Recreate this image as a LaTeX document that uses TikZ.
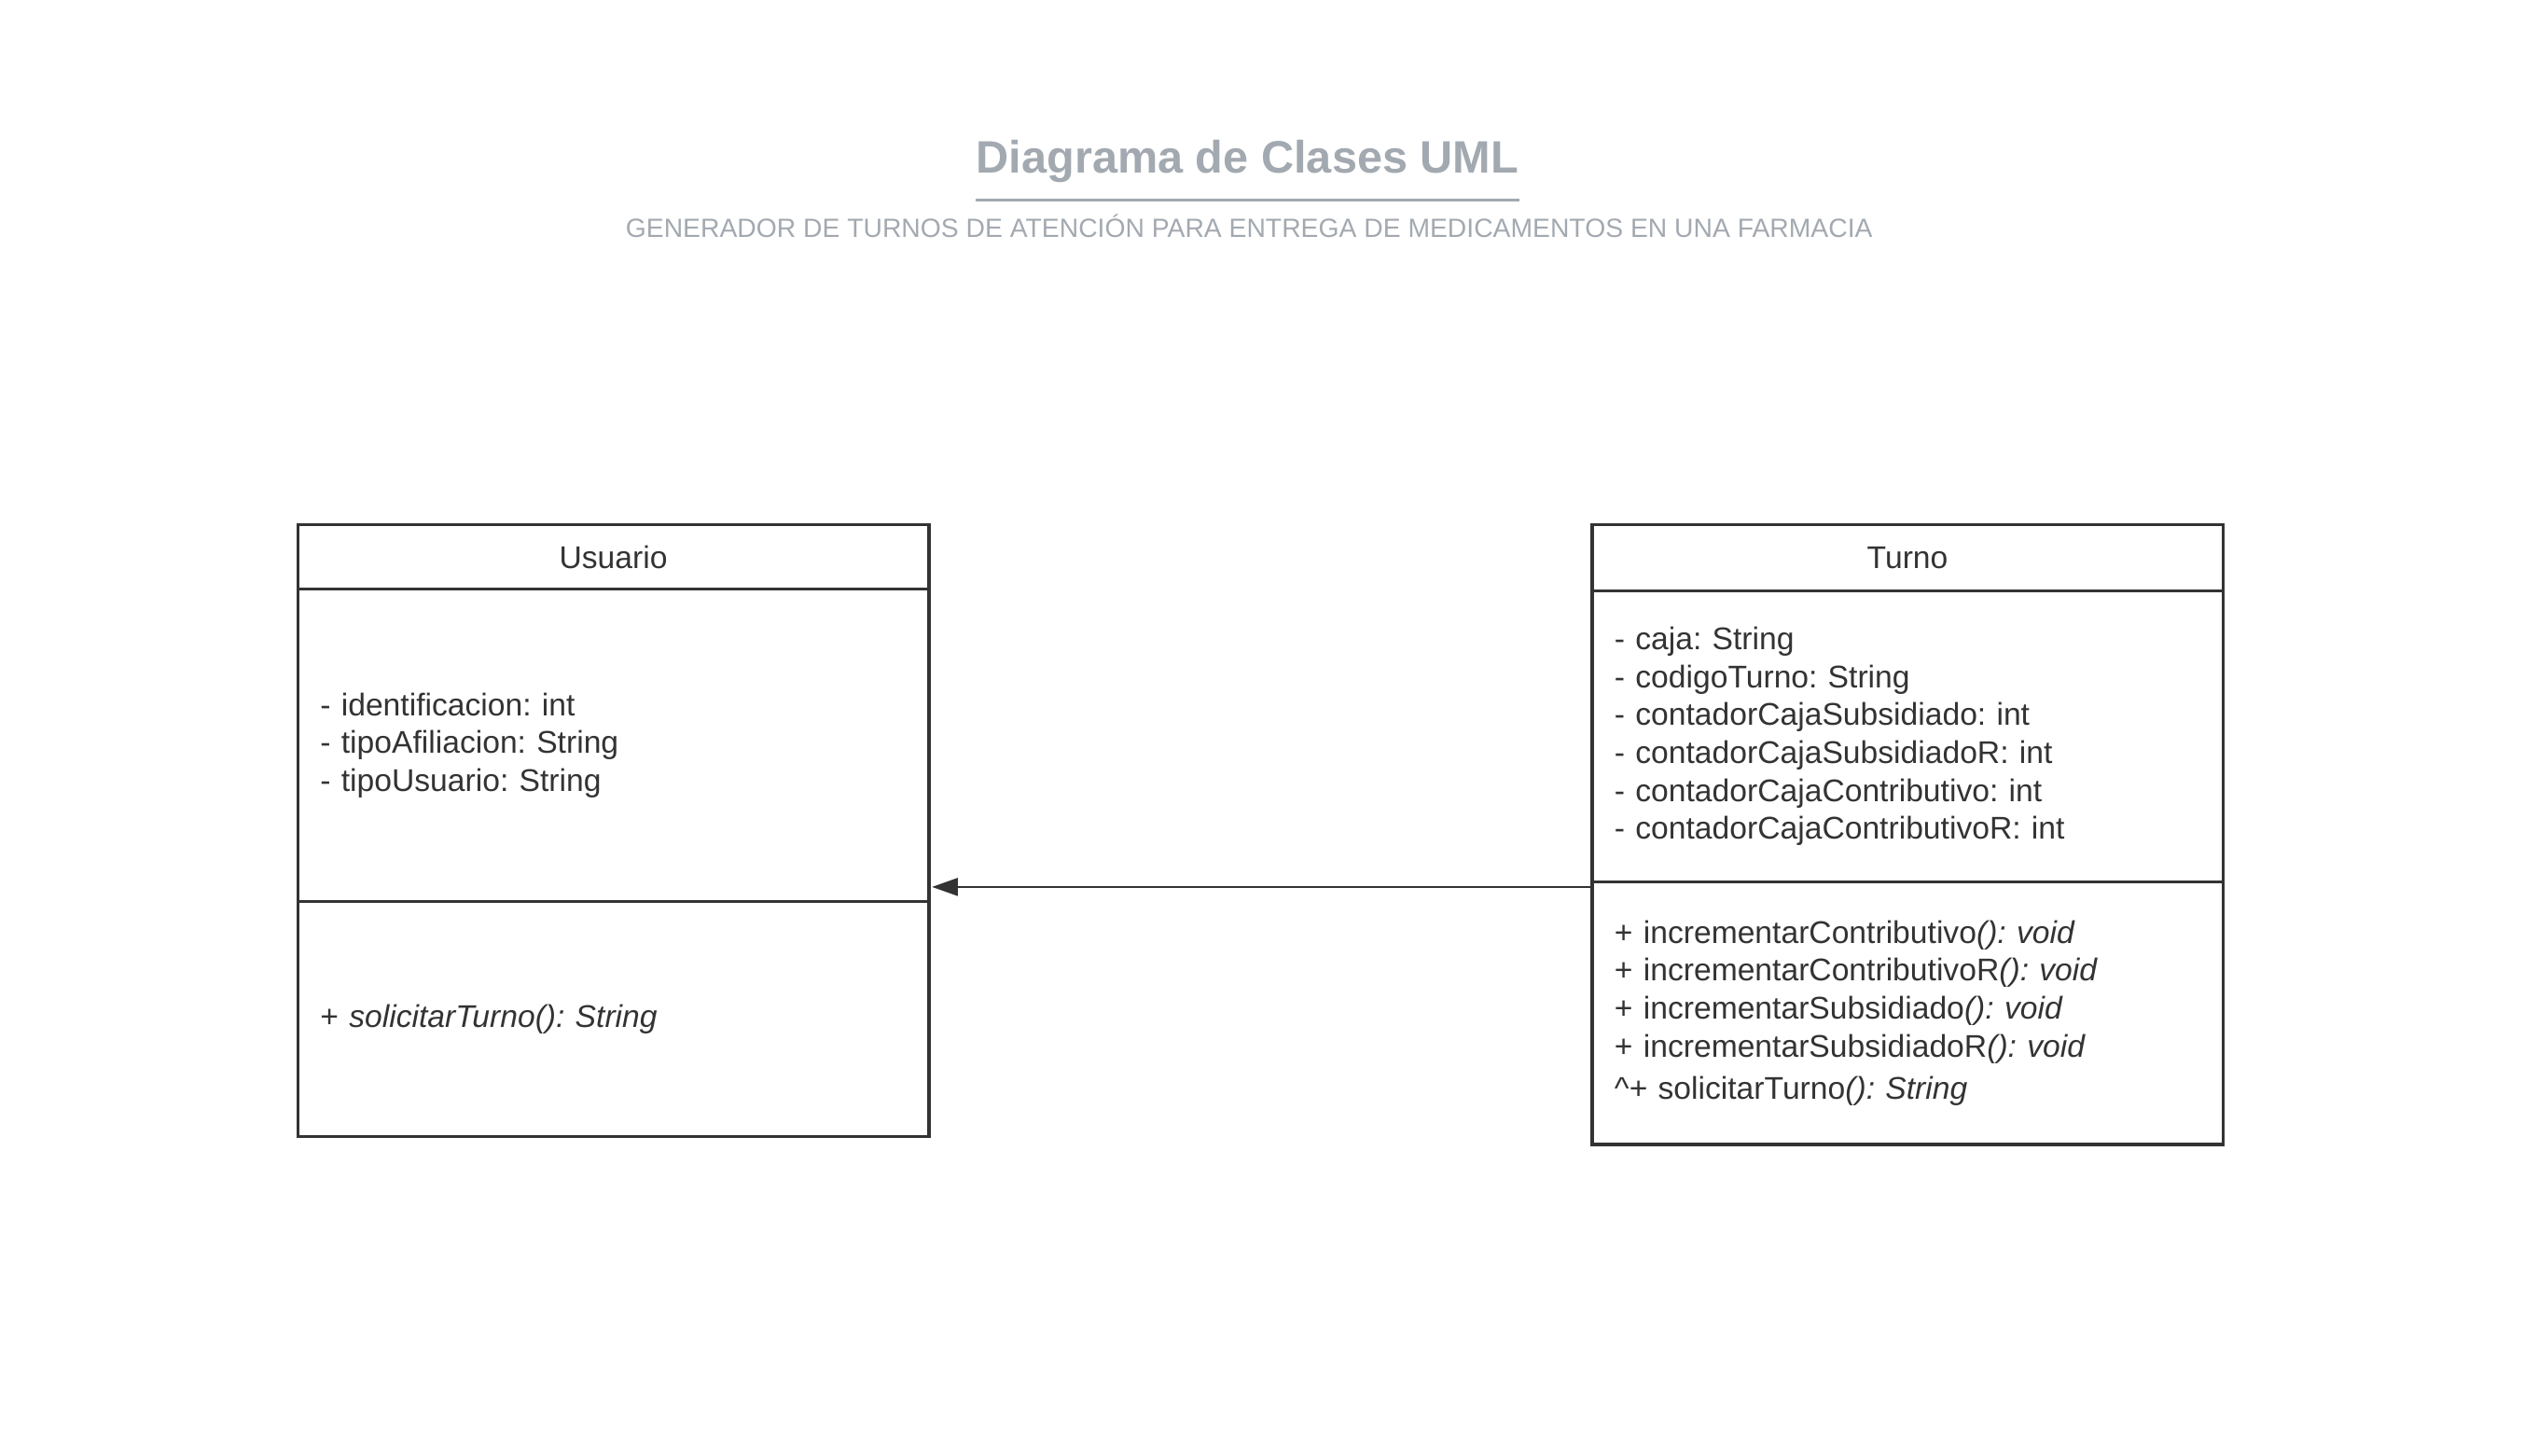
\documentclass[tikz,border=0pt]{standalone}
\usepackage{fontspec}
\setmainfont{Liberation Sans}
\usetikzlibrary{positioning,arrows.meta}
\definecolor{inkgray}{HTML}{333333}
\definecolor{titlegray}{HTML}{A3A9B0}
\newcommand{\bodyfont}{\fontsize{19.5}{23.5}\selectfont}
\frenchspacing

\tikzset{
  classbox/.style={draw=inkgray, text=inkgray, line width=2pt, minimum width=392pt,
                   inner sep=0pt, outer sep=0pt, font=\bodyfont},
  classbody/.style={classbox, text width=364pt, align=left, inner xsep=14pt},
  assoc/.style={draw=inkgray, line width=1.2pt, -{Triangle[length=16pt,width=11pt]}}
}

\begin{document}
\begin{tikzpicture}[x=1pt, y=-1pt]
        \useasboundingbox (0,0) rectangle (1568,904);

        % Title
        \node[text=titlegray, inner sep=0pt, font=\fontsize{28.2}{34}\selectfont\bfseries]
              (title) at (775,100) {Diagrama de Clases UML};
        \draw[titlegray, line width=2pt] ([yshift=-11pt]title.south west) -- ([yshift=-11pt]title.south east);
        \node[text=titlegray, inner sep=0pt, font=\fontsize{16.4}{20}\selectfont]
              (subtitle) at (776,140.5) {GENERADOR DE TURNOS DE ATENCIÓN PARA ENTREGA DE MEDICAMENTOS EN UNA FARMACIA};

        % Usuario
        \node[classbox, minimum height=40pt] (usuario) at (381,346) {Usuario};
        \node[classbody, minimum height=194pt, below=0pt of usuario] (usuarioAttr)
              {- identificacion: int\\ - tipoAfiliacion: String\\ - tipoUsuario: String};
        \node[classbody, minimum height=146pt, below=0pt of usuarioAttr] (usuarioOps)
              {+ \textit{solicitarTurno(): String}};

        % Turno
        \node[classbox, minimum height=41pt] (turno) at (1185,346.5) {Turno};
        \node[classbody, minimum height=181pt, below=0pt of turno] (turnoAttr)
              {- caja: String\\ - codigoTurno: String\\ - contadorCajaSubsidiado: int\\
               - contadorCajaSubsidiadoR: int\\ - contadorCajaContributivo: int\\
               - contadorCajaContributivoR: int};
        \node[classbody, minimum height=163pt, below=0pt of turnoAttr] (turnoOps)
              {+ incrementarContributivo\textit{(): void}\\
               + incrementarContributivoR\textit{(): void}\\
               + incrementarSubsidiado\textit{(): void}\\
               + incrementarSubsidiadoR\textit{(): void}\\[3pt]
               \textasciicircum+ solicitarTurno\textit{(): String}};

        % Draw the link
        \coordinate (link) at ([yshift=-3pt]turnoAttr.south west);
        \draw[assoc] (link) -- ([xshift=2pt]link -| usuarioAttr.east);
    \end{tikzpicture}
\end{document}
